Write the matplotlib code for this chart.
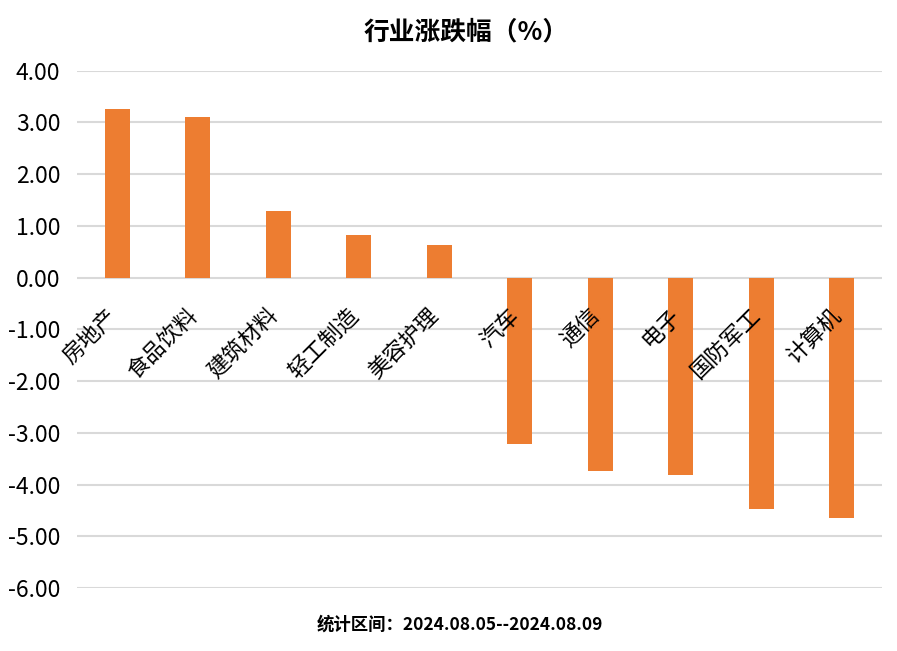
import matplotlib
matplotlib.use('Agg')
import matplotlib.pyplot as plt
import matplotlib.transforms as mtransforms

plt.rcParams['font.family'] = ['Noto Sans CJK SC', 'DejaVu Sans']

# 行业涨跌幅数据
categories = ['房地产', '食品饮料', '建筑材料', '轻工制造', '美容护理',
              '汽车', '通信', '电子', '国防军工', '计算机']
values = [3.26, 3.10, 1.29, 0.82, 0.63, -3.22, -3.73, -3.81, -4.48, -4.64]
yticks = [4, 3, 2, 1, 0, -1, -2, -3, -4, -5, -6]

fig = plt.figure(figsize=(8.97, 6.51), dpi=100)
ax = fig.add_axes([0.0858, 0.0968, 0.8975, 0.7946])

x = list(range(len(categories)))
ax.bar(x, values, width=0.31, color='#ED7D31', zorder=3)

ax.set_xlim(-0.5, len(categories) - 0.5)
ax.set_ylim(-6, 4)
ax.set_yticks(yticks)
ax.set_yticklabels(['%.2f' % v for v in yticks], fontsize=16.5)
ax.grid(axis='y', color='#D9D9D9', linewidth=1.5, zorder=0)
ax.tick_params(axis='y', length=0, pad=12)
ax.set_xticks([])
for s in ax.spines.values():
    s.set_visible(False)

# 分类标签放在0轴处，画在柱子上面
offset = mtransforms.ScaledTranslation(3 / 72, -19 / 72, fig.dpi_scale_trans)
for i, name in zip(x, categories):
    ax.text(i, 0, name, rotation=45, ha='right', va='top', fontsize=16,
            transform=ax.transData + offset, zorder=5)

fig.text(0.52, 0.951, '行业涨跌幅（%）', ha='center', va='center',
         fontsize=18.5, fontweight='bold')
fig.text(0.513, 0.04, '统计区间：2024.08.05--2024.08.09', ha='center', va='center',
         fontsize=12.5, fontweight='bold')

fig.savefig('out.png', dpi=100)
